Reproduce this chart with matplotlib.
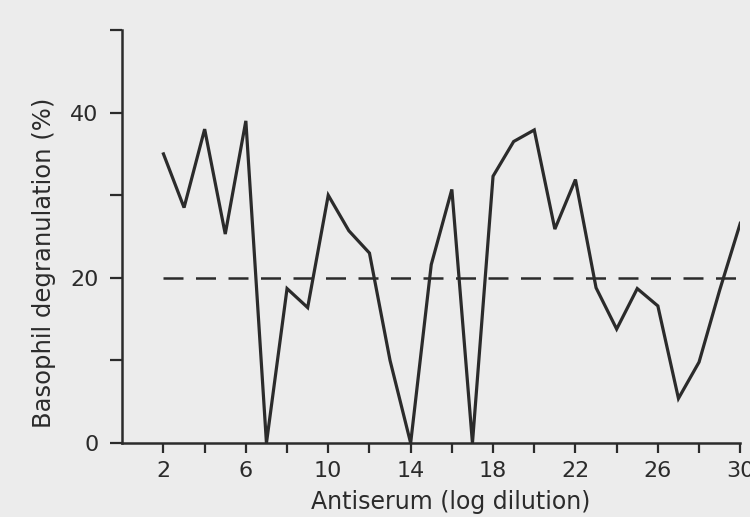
import matplotlib
matplotlib.use("Agg")
import matplotlib.pyplot as plt

dilution = list(range(2, 31))
degranulation = [35, 28.5, 38, 25.3, 39, 0, 18.7, 16.4, 30, 25.7, 23, 10, 0,
                 21.6, 30.7, 0, 32.3, 36.5, 37.9, 25.9, 31.9, 18.8, 13.8, 18.7,
                 16.6, 5.4, 9.8, 18.5, 26.6]
threshold_x = [2, 30]
threshold_y = [20, 20]
x_ticks = list(range(2, 31, 2))
x_labels = [str(v) if (v - 2) % 4 == 0 else "" for v in x_ticks]
y_ticks = [0, 10, 20, 30, 40, 50]
y_labels = ["0", "", "20", "", "40", ""]

ink = "#2b2b2b"
bg = "#ececec"

fig = plt.figure(figsize=(7.5, 5.17), dpi=100, facecolor=bg)
ax = fig.add_axes([0.163, 0.143, 0.824, 0.799])
ax.set_facecolor(bg)

ax.plot(dilution, degranulation, color=ink, lw=2.3, solid_joinstyle="miter")
ax.plot(threshold_x, threshold_y, color=ink, lw=1.8, dashes=(8, 5))

ax.set_xlim(0, 30)
ax.set_ylim(0, 50)
ax.set_xticks(x_ticks)
ax.set_xticklabels(x_labels)
ax.set_yticks(y_ticks)
ax.set_yticklabels(y_labels)

for s in ["top", "right"]:
    ax.spines[s].set_visible(False)
for s in ["left", "bottom"]:
    ax.spines[s].set_color(ink)
    ax.spines[s].set_linewidth(1.8)

ax.tick_params(axis="both", colors=ink, labelsize=16, width=1.6)
ax.tick_params(axis="y", length=9, pad=8)
ax.tick_params(axis="x", length=7, pad=6)

ax.set_xlabel("Antiserum (log dilution)", fontsize=17, color=ink)
ax.set_ylabel("Basophil degranulation (%)", fontsize=17.5, color=ink)
ax.xaxis.set_label_coords(0.532, -0.113)
ax.yaxis.set_label_coords(-0.108, 0.436)

fig.savefig("out.png", dpi=100, facecolor=bg)
